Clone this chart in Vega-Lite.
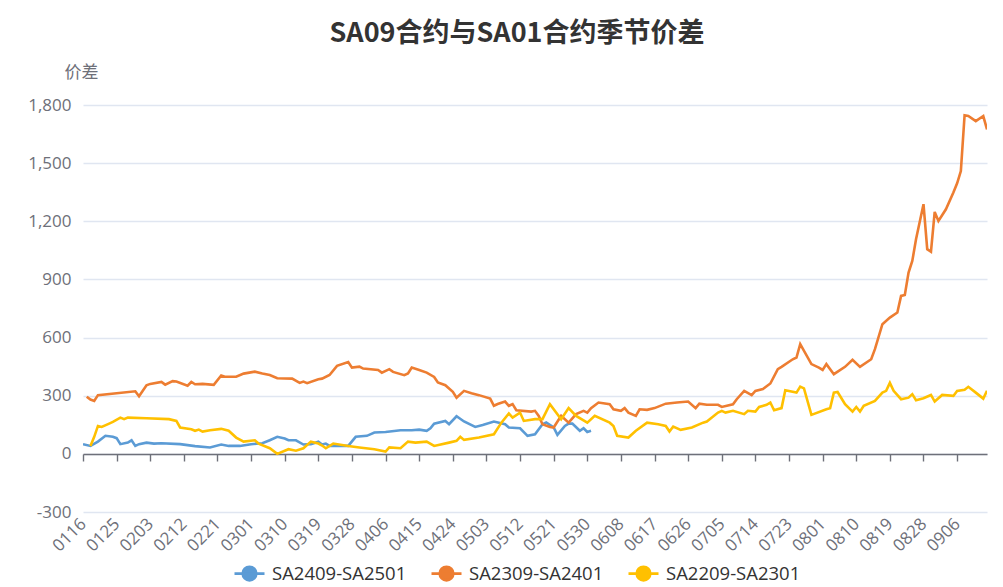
{
  "$schema": "https://vega.github.io/schema/vega-lite/v6.json",
  "width": 904,
  "height": 407,
  "autosize": {"type": "none"},
  "padding": {"left": 83, "top": 105, "right": 16, "bottom": 75},
  "background": "#ffffff",
  "title": {"text": "SA09合约与SA01合约季节价差", "font": "Noto Sans CJK SC", "fontSize": 27, "fontWeight": "bold", "color": "#333333", "anchor": "middle", "dx": -18, "offset": 15},
  "config": {"view": {"stroke": null}},
  "data": {"values": [
    {"series": "SA2409-SA2501", "date": "2024-01-16", "value": 50},
    {"series": "SA2409-SA2501", "date": "2024-01-18", "value": 41},
    {"series": "SA2409-SA2501", "date": "2024-01-20", "value": 63},
    {"series": "SA2409-SA2501", "date": "2024-01-22", "value": 93},
    {"series": "SA2409-SA2501", "date": "2024-01-24", "value": 88},
    {"series": "SA2409-SA2501", "date": "2024-01-25", "value": 81},
    {"series": "SA2409-SA2501", "date": "2024-01-26", "value": 50},
    {"series": "SA2409-SA2501", "date": "2024-01-28", "value": 58},
    {"series": "SA2409-SA2501", "date": "2024-01-29", "value": 70},
    {"series": "SA2409-SA2501", "date": "2024-01-30", "value": 41},
    {"series": "SA2409-SA2501", "date": "2024-01-31", "value": 50},
    {"series": "SA2409-SA2501", "date": "2024-02-02", "value": 58},
    {"series": "SA2409-SA2501", "date": "2024-02-04", "value": 53},
    {"series": "SA2409-SA2501", "date": "2024-02-06", "value": 55},
    {"series": "SA2409-SA2501", "date": "2024-02-11", "value": 50},
    {"series": "SA2409-SA2501", "date": "2024-02-15", "value": 40},
    {"series": "SA2409-SA2501", "date": "2024-02-19", "value": 33},
    {"series": "SA2409-SA2501", "date": "2024-02-22", "value": 48},
    {"series": "SA2409-SA2501", "date": "2024-02-24", "value": 41},
    {"series": "SA2409-SA2501", "date": "2024-02-27", "value": 41},
    {"series": "SA2409-SA2501", "date": "2024-03-01", "value": 50},
    {"series": "SA2409-SA2501", "date": "2024-03-04", "value": 55},
    {"series": "SA2409-SA2501", "date": "2024-03-06", "value": 70},
    {"series": "SA2409-SA2501", "date": "2024-03-08", "value": 88},
    {"series": "SA2409-SA2501", "date": "2024-03-10", "value": 79},
    {"series": "SA2409-SA2501", "date": "2024-03-11", "value": 70},
    {"series": "SA2409-SA2501", "date": "2024-03-13", "value": 70},
    {"series": "SA2409-SA2501", "date": "2024-03-15", "value": 48},
    {"series": "SA2409-SA2501", "date": "2024-03-17", "value": 50},
    {"series": "SA2409-SA2501", "date": "2024-03-19", "value": 63},
    {"series": "SA2409-SA2501", "date": "2024-03-20", "value": 48},
    {"series": "SA2409-SA2501", "date": "2024-03-21", "value": 53},
    {"series": "SA2409-SA2501", "date": "2024-03-22", "value": 41},
    {"series": "SA2409-SA2501", "date": "2024-03-25", "value": 41},
    {"series": "SA2409-SA2501", "date": "2024-03-27", "value": 41},
    {"series": "SA2409-SA2501", "date": "2024-03-29", "value": 88},
    {"series": "SA2409-SA2501", "date": "2024-04-01", "value": 93},
    {"series": "SA2409-SA2501", "date": "2024-04-03", "value": 110},
    {"series": "SA2409-SA2501", "date": "2024-04-06", "value": 113},
    {"series": "SA2409-SA2501", "date": "2024-04-10", "value": 122},
    {"series": "SA2409-SA2501", "date": "2024-04-13", "value": 122},
    {"series": "SA2409-SA2501", "date": "2024-04-15", "value": 125},
    {"series": "SA2409-SA2501", "date": "2024-04-17", "value": 119},
    {"series": "SA2409-SA2501", "date": "2024-04-18", "value": 132},
    {"series": "SA2409-SA2501", "date": "2024-04-19", "value": 156},
    {"series": "SA2409-SA2501", "date": "2024-04-22", "value": 170},
    {"series": "SA2409-SA2501", "date": "2024-04-23", "value": 153},
    {"series": "SA2409-SA2501", "date": "2024-04-25", "value": 194},
    {"series": "SA2409-SA2501", "date": "2024-04-27", "value": 167},
    {"series": "SA2409-SA2501", "date": "2024-04-30", "value": 139},
    {"series": "SA2409-SA2501", "date": "2024-05-02", "value": 149},
    {"series": "SA2409-SA2501", "date": "2024-05-05", "value": 167},
    {"series": "SA2409-SA2501", "date": "2024-05-08", "value": 153},
    {"series": "SA2409-SA2501", "date": "2024-05-09", "value": 136},
    {"series": "SA2409-SA2501", "date": "2024-05-12", "value": 132},
    {"series": "SA2409-SA2501", "date": "2024-05-14", "value": 93},
    {"series": "SA2409-SA2501", "date": "2024-05-16", "value": 101},
    {"series": "SA2409-SA2501", "date": "2024-05-18", "value": 153},
    {"series": "SA2409-SA2501", "date": "2024-05-19", "value": 162},
    {"series": "SA2409-SA2501", "date": "2024-05-21", "value": 136},
    {"series": "SA2409-SA2501", "date": "2024-05-22", "value": 98},
    {"series": "SA2409-SA2501", "date": "2024-05-24", "value": 144},
    {"series": "SA2409-SA2501", "date": "2024-05-25", "value": 156},
    {"series": "SA2409-SA2501", "date": "2024-05-26", "value": 156},
    {"series": "SA2409-SA2501", "date": "2024-05-28", "value": 119},
    {"series": "SA2409-SA2501", "date": "2024-05-29", "value": 132},
    {"series": "SA2409-SA2501", "date": "2024-05-30", "value": 113},
    {"series": "SA2409-SA2501", "date": "2024-05-31", "value": 119},
    {"series": "SA2309-SA2401", "date": "2024-01-17", "value": 295},
    {"series": "SA2309-SA2401", "date": "2024-01-18", "value": 280},
    {"series": "SA2309-SA2401", "date": "2024-01-19", "value": 273},
    {"series": "SA2309-SA2401", "date": "2024-01-20", "value": 303},
    {"series": "SA2309-SA2401", "date": "2024-01-30", "value": 323},
    {"series": "SA2309-SA2401", "date": "2024-01-31", "value": 297},
    {"series": "SA2309-SA2401", "date": "2024-02-02", "value": 354},
    {"series": "SA2309-SA2401", "date": "2024-02-03", "value": 361},
    {"series": "SA2309-SA2401", "date": "2024-02-06", "value": 371},
    {"series": "SA2309-SA2401", "date": "2024-02-07", "value": 357},
    {"series": "SA2309-SA2401", "date": "2024-02-09", "value": 375},
    {"series": "SA2309-SA2401", "date": "2024-02-10", "value": 373},
    {"series": "SA2309-SA2401", "date": "2024-02-13", "value": 352},
    {"series": "SA2309-SA2401", "date": "2024-02-14", "value": 371},
    {"series": "SA2309-SA2401", "date": "2024-02-15", "value": 359},
    {"series": "SA2309-SA2401", "date": "2024-02-17", "value": 361},
    {"series": "SA2309-SA2401", "date": "2024-02-20", "value": 356},
    {"series": "SA2309-SA2401", "date": "2024-02-22", "value": 404},
    {"series": "SA2309-SA2401", "date": "2024-02-23", "value": 398},
    {"series": "SA2309-SA2401", "date": "2024-02-26", "value": 398},
    {"series": "SA2309-SA2401", "date": "2024-02-28", "value": 414},
    {"series": "SA2309-SA2401", "date": "2024-03-02", "value": 424},
    {"series": "SA2309-SA2401", "date": "2024-03-04", "value": 415},
    {"series": "SA2309-SA2401", "date": "2024-03-06", "value": 407},
    {"series": "SA2309-SA2401", "date": "2024-03-08", "value": 390},
    {"series": "SA2309-SA2401", "date": "2024-03-12", "value": 388},
    {"series": "SA2309-SA2401", "date": "2024-03-14", "value": 366},
    {"series": "SA2309-SA2401", "date": "2024-03-15", "value": 373},
    {"series": "SA2309-SA2401", "date": "2024-03-16", "value": 365},
    {"series": "SA2309-SA2401", "date": "2024-03-19", "value": 385},
    {"series": "SA2309-SA2401", "date": "2024-03-20", "value": 388},
    {"series": "SA2309-SA2401", "date": "2024-03-22", "value": 407},
    {"series": "SA2309-SA2401", "date": "2024-03-24", "value": 454},
    {"series": "SA2309-SA2401", "date": "2024-03-27", "value": 474},
    {"series": "SA2309-SA2401", "date": "2024-03-28", "value": 445},
    {"series": "SA2309-SA2401", "date": "2024-03-30", "value": 450},
    {"series": "SA2309-SA2401", "date": "2024-03-31", "value": 440},
    {"series": "SA2309-SA2401", "date": "2024-04-04", "value": 433},
    {"series": "SA2309-SA2401", "date": "2024-04-05", "value": 419},
    {"series": "SA2309-SA2401", "date": "2024-04-07", "value": 437},
    {"series": "SA2309-SA2401", "date": "2024-04-08", "value": 423},
    {"series": "SA2309-SA2401", "date": "2024-04-11", "value": 406},
    {"series": "SA2309-SA2401", "date": "2024-04-12", "value": 415},
    {"series": "SA2309-SA2401", "date": "2024-04-13", "value": 445},
    {"series": "SA2309-SA2401", "date": "2024-04-15", "value": 433},
    {"series": "SA2309-SA2401", "date": "2024-04-17", "value": 419},
    {"series": "SA2309-SA2401", "date": "2024-04-19", "value": 397},
    {"series": "SA2309-SA2401", "date": "2024-04-20", "value": 368},
    {"series": "SA2309-SA2401", "date": "2024-04-22", "value": 354},
    {"series": "SA2309-SA2401", "date": "2024-04-24", "value": 320},
    {"series": "SA2309-SA2401", "date": "2024-04-25", "value": 290},
    {"series": "SA2309-SA2401", "date": "2024-04-27", "value": 325},
    {"series": "SA2309-SA2401", "date": "2024-04-29", "value": 313},
    {"series": "SA2309-SA2401", "date": "2024-05-01", "value": 303},
    {"series": "SA2309-SA2401", "date": "2024-05-04", "value": 285},
    {"series": "SA2309-SA2401", "date": "2024-05-05", "value": 248},
    {"series": "SA2309-SA2401", "date": "2024-05-06", "value": 257},
    {"series": "SA2309-SA2401", "date": "2024-05-08", "value": 270},
    {"series": "SA2309-SA2401", "date": "2024-05-09", "value": 248},
    {"series": "SA2309-SA2401", "date": "2024-05-10", "value": 257},
    {"series": "SA2309-SA2401", "date": "2024-05-11", "value": 225},
    {"series": "SA2309-SA2401", "date": "2024-05-15", "value": 218},
    {"series": "SA2309-SA2401", "date": "2024-05-16", "value": 222},
    {"series": "SA2309-SA2401", "date": "2024-05-17", "value": 196},
    {"series": "SA2309-SA2401", "date": "2024-05-18", "value": 153},
    {"series": "SA2309-SA2401", "date": "2024-05-20", "value": 139},
    {"series": "SA2309-SA2401", "date": "2024-05-21", "value": 136},
    {"series": "SA2309-SA2401", "date": "2024-05-23", "value": 196},
    {"series": "SA2309-SA2401", "date": "2024-05-25", "value": 161},
    {"series": "SA2309-SA2401", "date": "2024-05-27", "value": 205},
    {"series": "SA2309-SA2401", "date": "2024-05-29", "value": 222},
    {"series": "SA2309-SA2401", "date": "2024-05-30", "value": 213},
    {"series": "SA2309-SA2401", "date": "2024-05-31", "value": 236},
    {"series": "SA2309-SA2401", "date": "2024-06-02", "value": 265},
    {"series": "SA2309-SA2401", "date": "2024-06-05", "value": 256},
    {"series": "SA2309-SA2401", "date": "2024-06-06", "value": 230},
    {"series": "SA2309-SA2401", "date": "2024-06-08", "value": 222},
    {"series": "SA2309-SA2401", "date": "2024-06-09", "value": 236},
    {"series": "SA2309-SA2401", "date": "2024-06-10", "value": 213},
    {"series": "SA2309-SA2401", "date": "2024-06-12", "value": 196},
    {"series": "SA2309-SA2401", "date": "2024-06-13", "value": 230},
    {"series": "SA2309-SA2401", "date": "2024-06-15", "value": 227},
    {"series": "SA2309-SA2401", "date": "2024-06-17", "value": 236},
    {"series": "SA2309-SA2401", "date": "2024-06-20", "value": 259},
    {"series": "SA2309-SA2401", "date": "2024-06-23", "value": 265},
    {"series": "SA2309-SA2401", "date": "2024-06-26", "value": 270},
    {"series": "SA2309-SA2401", "date": "2024-06-28", "value": 236},
    {"series": "SA2309-SA2401", "date": "2024-06-29", "value": 259},
    {"series": "SA2309-SA2401", "date": "2024-07-01", "value": 253},
    {"series": "SA2309-SA2401", "date": "2024-07-04", "value": 253},
    {"series": "SA2309-SA2401", "date": "2024-07-05", "value": 242},
    {"series": "SA2309-SA2401", "date": "2024-07-08", "value": 256},
    {"series": "SA2309-SA2401", "date": "2024-07-09", "value": 282},
    {"series": "SA2309-SA2401", "date": "2024-07-11", "value": 325},
    {"series": "SA2309-SA2401", "date": "2024-07-13", "value": 303},
    {"series": "SA2309-SA2401", "date": "2024-07-14", "value": 325},
    {"series": "SA2309-SA2401", "date": "2024-07-16", "value": 334},
    {"series": "SA2309-SA2401", "date": "2024-07-18", "value": 363},
    {"series": "SA2309-SA2401", "date": "2024-07-20", "value": 437},
    {"series": "SA2309-SA2401", "date": "2024-07-21", "value": 449},
    {"series": "SA2309-SA2401", "date": "2024-07-24", "value": 488},
    {"series": "SA2309-SA2401", "date": "2024-07-25", "value": 497},
    {"series": "SA2309-SA2401", "date": "2024-07-26", "value": 566},
    {"series": "SA2309-SA2401", "date": "2024-07-29", "value": 463},
    {"series": "SA2309-SA2401", "date": "2024-07-31", "value": 445},
    {"series": "SA2309-SA2401", "date": "2024-08-01", "value": 433},
    {"series": "SA2309-SA2401", "date": "2024-08-02", "value": 463},
    {"series": "SA2309-SA2401", "date": "2024-08-04", "value": 411},
    {"series": "SA2309-SA2401", "date": "2024-08-07", "value": 449},
    {"series": "SA2309-SA2401", "date": "2024-08-09", "value": 485},
    {"series": "SA2309-SA2401", "date": "2024-08-11", "value": 449},
    {"series": "SA2309-SA2401", "date": "2024-08-14", "value": 488},
    {"series": "SA2309-SA2401", "date": "2024-08-15", "value": 540},
    {"series": "SA2309-SA2401", "date": "2024-08-17", "value": 669},
    {"series": "SA2309-SA2401", "date": "2024-08-19", "value": 703},
    {"series": "SA2309-SA2401", "date": "2024-08-21", "value": 729},
    {"series": "SA2309-SA2401", "date": "2024-08-22", "value": 815},
    {"series": "SA2309-SA2401", "date": "2024-08-23", "value": 820},
    {"series": "SA2309-SA2401", "date": "2024-08-24", "value": 935},
    {"series": "SA2309-SA2401", "date": "2024-08-25", "value": 995},
    {"series": "SA2309-SA2401", "date": "2024-08-26", "value": 1107},
    {"series": "SA2309-SA2401", "date": "2024-08-28", "value": 1288},
    {"series": "SA2309-SA2401", "date": "2024-08-29", "value": 1056},
    {"series": "SA2309-SA2401", "date": "2024-08-30", "value": 1043},
    {"series": "SA2309-SA2401", "date": "2024-08-31", "value": 1248},
    {"series": "SA2309-SA2401", "date": "2024-09-01", "value": 1202},
    {"series": "SA2309-SA2401", "date": "2024-09-03", "value": 1262},
    {"series": "SA2309-SA2401", "date": "2024-09-05", "value": 1348},
    {"series": "SA2309-SA2401", "date": "2024-09-06", "value": 1396},
    {"series": "SA2309-SA2401", "date": "2024-09-07", "value": 1459},
    {"series": "SA2309-SA2401", "date": "2024-09-08", "value": 1747},
    {"series": "SA2309-SA2401", "date": "2024-09-09", "value": 1743},
    {"series": "SA2309-SA2401", "date": "2024-09-11", "value": 1717},
    {"series": "SA2309-SA2401", "date": "2024-09-13", "value": 1743},
    {"series": "SA2309-SA2401", "date": "2024-09-14", "value": 1674},
    {"series": "SA2209-SA2301", "date": "2024-01-18", "value": 41},
    {"series": "SA2209-SA2301", "date": "2024-01-19", "value": 88},
    {"series": "SA2209-SA2301", "date": "2024-01-20", "value": 144},
    {"series": "SA2209-SA2301", "date": "2024-01-21", "value": 139},
    {"series": "SA2209-SA2301", "date": "2024-01-23", "value": 156},
    {"series": "SA2209-SA2301", "date": "2024-01-24", "value": 165},
    {"series": "SA2209-SA2301", "date": "2024-01-26", "value": 187},
    {"series": "SA2209-SA2301", "date": "2024-01-27", "value": 179},
    {"series": "SA2209-SA2301", "date": "2024-01-28", "value": 187},
    {"series": "SA2209-SA2301", "date": "2024-02-02", "value": 184},
    {"series": "SA2209-SA2301", "date": "2024-02-08", "value": 179},
    {"series": "SA2209-SA2301", "date": "2024-02-10", "value": 170},
    {"series": "SA2209-SA2301", "date": "2024-02-11", "value": 136},
    {"series": "SA2209-SA2301", "date": "2024-02-14", "value": 127},
    {"series": "SA2209-SA2301", "date": "2024-02-15", "value": 119},
    {"series": "SA2209-SA2301", "date": "2024-02-16", "value": 125},
    {"series": "SA2209-SA2301", "date": "2024-02-17", "value": 115},
    {"series": "SA2209-SA2301", "date": "2024-02-19", "value": 122},
    {"series": "SA2209-SA2301", "date": "2024-02-22", "value": 129},
    {"series": "SA2209-SA2301", "date": "2024-02-24", "value": 119},
    {"series": "SA2209-SA2301", "date": "2024-02-26", "value": 84},
    {"series": "SA2209-SA2301", "date": "2024-02-28", "value": 63},
    {"series": "SA2209-SA2301", "date": "2024-03-02", "value": 70},
    {"series": "SA2209-SA2301", "date": "2024-03-03", "value": 53},
    {"series": "SA2209-SA2301", "date": "2024-03-06", "value": 29},
    {"series": "SA2209-SA2301", "date": "2024-03-08", "value": 0},
    {"series": "SA2209-SA2301", "date": "2024-03-11", "value": 24},
    {"series": "SA2209-SA2301", "date": "2024-03-13", "value": 16},
    {"series": "SA2209-SA2301", "date": "2024-03-15", "value": 29},
    {"series": "SA2209-SA2301", "date": "2024-03-17", "value": 63},
    {"series": "SA2209-SA2301", "date": "2024-03-19", "value": 53},
    {"series": "SA2209-SA2301", "date": "2024-03-20", "value": 43},
    {"series": "SA2209-SA2301", "date": "2024-03-21", "value": 29},
    {"series": "SA2209-SA2301", "date": "2024-03-23", "value": 53},
    {"series": "SA2209-SA2301", "date": "2024-03-27", "value": 41},
    {"series": "SA2209-SA2301", "date": "2024-03-30", "value": 33},
    {"series": "SA2209-SA2301", "date": "2024-04-03", "value": 24},
    {"series": "SA2209-SA2301", "date": "2024-04-06", "value": 12},
    {"series": "SA2209-SA2301", "date": "2024-04-07", "value": 33},
    {"series": "SA2209-SA2301", "date": "2024-04-10", "value": 29},
    {"series": "SA2209-SA2301", "date": "2024-04-12", "value": 63},
    {"series": "SA2209-SA2301", "date": "2024-04-14", "value": 58},
    {"series": "SA2209-SA2301", "date": "2024-04-17", "value": 63},
    {"series": "SA2209-SA2301", "date": "2024-04-19", "value": 41},
    {"series": "SA2209-SA2301", "date": "2024-04-23", "value": 58},
    {"series": "SA2209-SA2301", "date": "2024-04-25", "value": 67},
    {"series": "SA2209-SA2301", "date": "2024-04-26", "value": 88},
    {"series": "SA2209-SA2301", "date": "2024-04-27", "value": 72},
    {"series": "SA2209-SA2301", "date": "2024-05-01", "value": 84},
    {"series": "SA2209-SA2301", "date": "2024-05-05", "value": 101},
    {"series": "SA2209-SA2301", "date": "2024-05-07", "value": 161},
    {"series": "SA2209-SA2301", "date": "2024-05-09", "value": 208},
    {"series": "SA2209-SA2301", "date": "2024-05-10", "value": 187},
    {"series": "SA2209-SA2301", "date": "2024-05-12", "value": 213},
    {"series": "SA2209-SA2301", "date": "2024-05-13", "value": 170},
    {"series": "SA2209-SA2301", "date": "2024-05-16", "value": 179},
    {"series": "SA2209-SA2301", "date": "2024-05-18", "value": 179},
    {"series": "SA2209-SA2301", "date": "2024-05-20", "value": 256},
    {"series": "SA2209-SA2301", "date": "2024-05-23", "value": 179},
    {"series": "SA2209-SA2301", "date": "2024-05-25", "value": 236},
    {"series": "SA2209-SA2301", "date": "2024-05-27", "value": 196},
    {"series": "SA2209-SA2301", "date": "2024-05-30", "value": 161},
    {"series": "SA2209-SA2301", "date": "2024-06-01", "value": 196},
    {"series": "SA2209-SA2301", "date": "2024-06-05", "value": 161},
    {"series": "SA2209-SA2301", "date": "2024-06-06", "value": 144},
    {"series": "SA2209-SA2301", "date": "2024-06-07", "value": 93},
    {"series": "SA2209-SA2301", "date": "2024-06-10", "value": 84},
    {"series": "SA2209-SA2301", "date": "2024-06-12", "value": 119},
    {"series": "SA2209-SA2301", "date": "2024-06-15", "value": 161},
    {"series": "SA2209-SA2301", "date": "2024-06-18", "value": 153},
    {"series": "SA2209-SA2301", "date": "2024-06-20", "value": 144},
    {"series": "SA2209-SA2301", "date": "2024-06-21", "value": 115},
    {"series": "SA2209-SA2301", "date": "2024-06-22", "value": 141},
    {"series": "SA2209-SA2301", "date": "2024-06-24", "value": 124},
    {"series": "SA2209-SA2301", "date": "2024-06-27", "value": 136},
    {"series": "SA2209-SA2301", "date": "2024-06-30", "value": 161},
    {"series": "SA2209-SA2301", "date": "2024-07-01", "value": 167},
    {"series": "SA2209-SA2301", "date": "2024-07-04", "value": 213},
    {"series": "SA2209-SA2301", "date": "2024-07-05", "value": 222},
    {"series": "SA2209-SA2301", "date": "2024-07-06", "value": 213},
    {"series": "SA2209-SA2301", "date": "2024-07-08", "value": 222},
    {"series": "SA2209-SA2301", "date": "2024-07-11", "value": 205},
    {"series": "SA2209-SA2301", "date": "2024-07-12", "value": 222},
    {"series": "SA2209-SA2301", "date": "2024-07-14", "value": 218},
    {"series": "SA2209-SA2301", "date": "2024-07-15", "value": 242},
    {"series": "SA2209-SA2301", "date": "2024-07-17", "value": 253},
    {"series": "SA2209-SA2301", "date": "2024-07-18", "value": 265},
    {"series": "SA2209-SA2301", "date": "2024-07-19", "value": 225},
    {"series": "SA2209-SA2301", "date": "2024-07-21", "value": 236},
    {"series": "SA2209-SA2301", "date": "2024-07-22", "value": 328},
    {"series": "SA2209-SA2301", "date": "2024-07-25", "value": 316},
    {"series": "SA2209-SA2301", "date": "2024-07-26", "value": 347},
    {"series": "SA2209-SA2301", "date": "2024-07-27", "value": 338},
    {"series": "SA2209-SA2301", "date": "2024-07-29", "value": 201},
    {"series": "SA2209-SA2301", "date": "2024-08-02", "value": 230},
    {"series": "SA2209-SA2301", "date": "2024-08-03", "value": 235},
    {"series": "SA2209-SA2301", "date": "2024-08-04", "value": 316},
    {"series": "SA2209-SA2301", "date": "2024-08-05", "value": 319},
    {"series": "SA2209-SA2301", "date": "2024-08-07", "value": 256},
    {"series": "SA2209-SA2301", "date": "2024-08-09", "value": 218},
    {"series": "SA2209-SA2301", "date": "2024-08-10", "value": 242},
    {"series": "SA2209-SA2301", "date": "2024-08-11", "value": 218},
    {"series": "SA2209-SA2301", "date": "2024-08-12", "value": 248},
    {"series": "SA2209-SA2301", "date": "2024-08-15", "value": 273},
    {"series": "SA2209-SA2301", "date": "2024-08-17", "value": 316},
    {"series": "SA2209-SA2301", "date": "2024-08-18", "value": 325},
    {"series": "SA2209-SA2301", "date": "2024-08-19", "value": 366},
    {"series": "SA2209-SA2301", "date": "2024-08-20", "value": 325},
    {"series": "SA2209-SA2301", "date": "2024-08-22", "value": 282},
    {"series": "SA2209-SA2301", "date": "2024-08-24", "value": 290},
    {"series": "SA2209-SA2301", "date": "2024-08-25", "value": 308},
    {"series": "SA2209-SA2301", "date": "2024-08-26", "value": 277},
    {"series": "SA2209-SA2301", "date": "2024-08-28", "value": 287},
    {"series": "SA2209-SA2301", "date": "2024-08-30", "value": 304},
    {"series": "SA2209-SA2301", "date": "2024-08-31", "value": 270},
    {"series": "SA2209-SA2301", "date": "2024-09-02", "value": 304},
    {"series": "SA2209-SA2301", "date": "2024-09-05", "value": 299},
    {"series": "SA2209-SA2301", "date": "2024-09-06", "value": 325},
    {"series": "SA2209-SA2301", "date": "2024-09-08", "value": 331},
    {"series": "SA2209-SA2301", "date": "2024-09-09", "value": 346},
    {"series": "SA2209-SA2301", "date": "2024-09-11", "value": 316},
    {"series": "SA2209-SA2301", "date": "2024-09-13", "value": 285},
    {"series": "SA2209-SA2301", "date": "2024-09-14", "value": 325}
  ]},
  "mark": {"type": "line", "strokeWidth": 2.6, "interpolate": "linear", "clip": true},
  "encoding": {
    "x": {
      "field": "date", "type": "temporal",
      "scale": {"type": "utc", "domain": [{"year": 2024, "month": 1, "date": 16, "utc": true}, {"year": 2024, "month": 9, "date": 14, "utc": true}]},
      "axis": {
        "title": null,
        "labelExpr": "utcFormat(datum.value, '%m%d')",
        "values": [
          {"year": 2024, "month": 1, "date": 16, "utc": true},
          {"year": 2024, "month": 1, "date": 25, "utc": true},
          {"year": 2024, "month": 2, "date": 3, "utc": true},
          {"year": 2024, "month": 2, "date": 12, "utc": true},
          {"year": 2024, "month": 2, "date": 21, "utc": true},
          {"year": 2024, "month": 3, "date": 1, "utc": true},
          {"year": 2024, "month": 3, "date": 10, "utc": true},
          {"year": 2024, "month": 3, "date": 19, "utc": true},
          {"year": 2024, "month": 3, "date": 28, "utc": true},
          {"year": 2024, "month": 4, "date": 6, "utc": true},
          {"year": 2024, "month": 4, "date": 15, "utc": true},
          {"year": 2024, "month": 4, "date": 24, "utc": true},
          {"year": 2024, "month": 5, "date": 3, "utc": true},
          {"year": 2024, "month": 5, "date": 12, "utc": true},
          {"year": 2024, "month": 5, "date": 21, "utc": true},
          {"year": 2024, "month": 5, "date": 30, "utc": true},
          {"year": 2024, "month": 6, "date": 8, "utc": true},
          {"year": 2024, "month": 6, "date": 17, "utc": true},
          {"year": 2024, "month": 6, "date": 26, "utc": true},
          {"year": 2024, "month": 7, "date": 5, "utc": true},
          {"year": 2024, "month": 7, "date": 14, "utc": true},
          {"year": 2024, "month": 7, "date": 23, "utc": true},
          {"year": 2024, "month": 8, "date": 1, "utc": true},
          {"year": 2024, "month": 8, "date": 10, "utc": true},
          {"year": 2024, "month": 8, "date": 19, "utc": true},
          {"year": 2024, "month": 8, "date": 28, "utc": true},
          {"year": 2024, "month": 9, "date": 6, "utc": true}
        ],
        "labelAngle": -45, "labelAlign": "right", "labelBaseline": "middle",
        "labelPadding": 60, "offset": -58, "tickSize": 7, "tickWidth": 1.4,
        "tickColor": "#6E7079", "domainColor": "#6E7079", "domainWidth": 1.4,
        "labelFont": "Open Sans", "labelFontSize": 17, "labelColor": "#6E7079",
        "grid": false, "labelOverlap": false, "labelBound": false, "labelFlush": false
      }
    },
    "y": {
      "field": "value", "type": "quantitative",
      "scale": {"domain": [-300, 1800], "nice": false, "zero": false},
      "axis": {
        "values": [-300, 0, 300, 600, 900, 1200, 1500, 1800],
        "labelExpr": "replace(format(datum.value, ','), '−', '-')",
        "title": "价差", "titleAngle": 0, "titleX": -2, "titleY": -33,
        "titleAlign": "center", "titleBaseline": "middle",
        "titleFont": "Noto Sans CJK SC", "titleFontSize": 17, "titleFontWeight": "normal", "titleColor": "#6E7079",
        "labelFont": "Open Sans", "labelFontSize": 17, "labelColor": "#6E7079", "labelPadding": 12,
        "ticks": false, "domain": false, "grid": true, "gridColor": "#E0E6F1", "gridWidth": 1.4
      }
    },
    "color": {
      "field": "series", "type": "nominal",
      "scale": {"domain": ["SA2409-SA2501", "SA2309-SA2401", "SA2209-SA2301"], "range": ["#5B9BD5", "#ED7D31", "#FFC000"]},
      "legend": {
        "orient": "none", "legendX": 150, "legendY": 452, "direction": "horizontal", "title": null,
        "symbolType": "M-1,0L1,0M0.45,0A0.45,0.45,0,1,1,-0.45,0A0.45,0.45,0,1,1,0.45,0Z",
        "symbolSize": 900, "symbolStrokeWidth": 2.8,
        "labelFont": "Open Sans", "labelFontSize": 18.5, "labelColor": "#333333", "labelOffset": 6, "columnPadding": 18,
        "encode": {"symbols": {"update": {"fill": {"scale": "color", "field": "value"}, "fillOpacity": {"value": 1}}}}
      }
    }
  }
}
